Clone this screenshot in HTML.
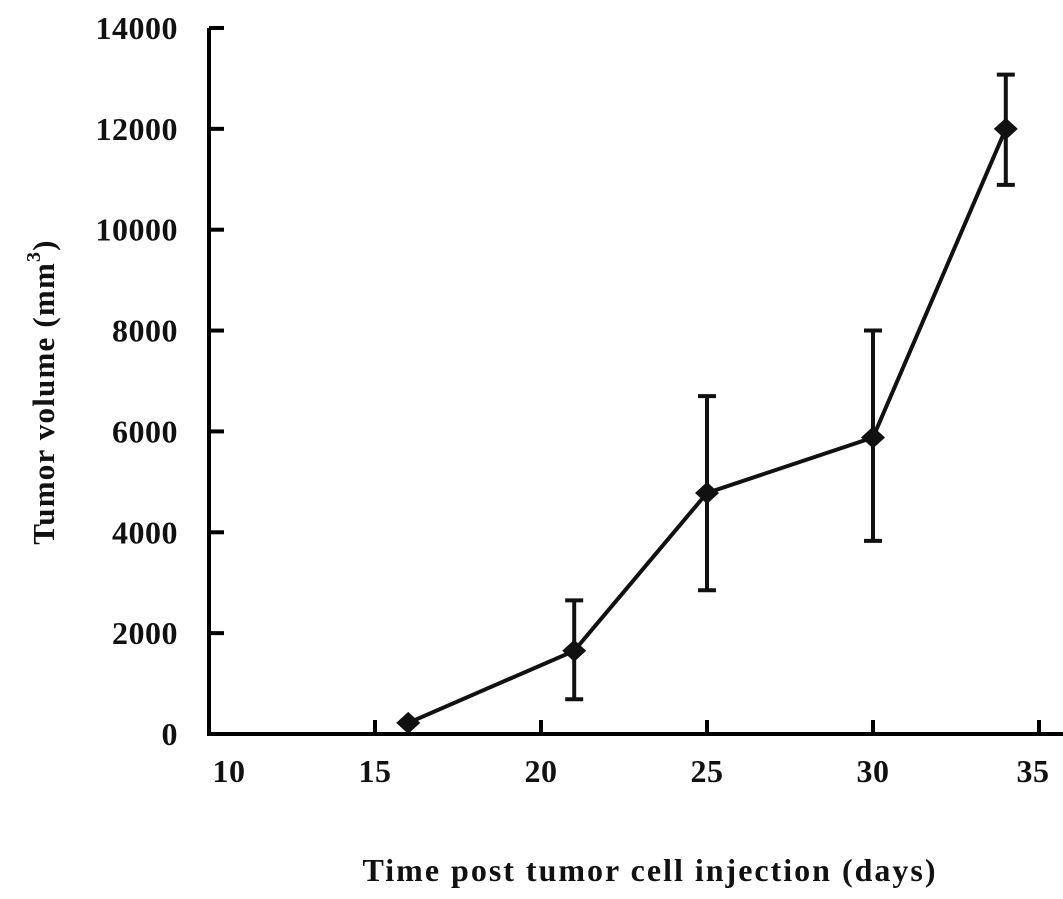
<!DOCTYPE html>
<html><head><meta charset="utf-8"><style>
body{margin:0;background:#fff;}
svg text{font-family:"Liberation Serif",serif;font-weight:bold;fill:#111;}
</style></head><body>
<svg id="chart" width="1063" height="894" viewBox="0 0 1063 894" xmlns="http://www.w3.org/2000/svg">
<g id="axes"></g>
<g id="series"></g>
<text x="650" y="893" text-anchor="middle" font-size="32" letter-spacing="2" dy="-12">Time post tumor cell injection (days)</text>
<text transform="translate(54,392) rotate(-90)" text-anchor="middle" font-size="31" letter-spacing="1.2">Tumor volume (mm<tspan font-size="20" dy="-14">3</tspan><tspan dy="14">)</tspan></text>
</svg>
<script>
const days = [16, 21, 25, 30, 34];
const volumes = [220, 1650, 4780, 5880, 12000];
const errLow = [220, 690, 2850, 3830, 10890];
const errHigh = [220, 2650, 6700, 8000, 13075];
const xTicks = [10, 15, 20, 25, 30, 35];
const yTicks = [0, 2000, 4000, 6000, 8000, 10000, 12000, 14000];

const NS = "http://www.w3.org/2000/svg";
const X0 = 209, Y0 = 734;
function xs(d){ return X0 + (d - 10) * 33.2; }
function ys(v){ return Y0 - v * 0.05043; }
function mk(tag, attrs, parent){
  const e = document.createElementNS(NS, tag);
  for (const k in attrs) e.setAttribute(k, attrs[k]);
  parent.appendChild(e); return e;
}
const ax = document.getElementById('axes');
const se = document.getElementById('series');
const yl = mk('line', {x1:X0, y1:ys(14000), x2:X0, y2:Y0, stroke:'#000', 'stroke-width':4}, ax);


const xl = mk('line', {x1:X0-2, y1:Y0, x2:1063, y2:Y0, stroke:'#000', 'stroke-width':4}, ax);


yTicks.forEach(v => {
  const t = mk('line', {x1:X0, y1:ys(v), x2:X0+15, y2:ys(v), stroke:'#000', 'stroke-width':4}, ax);
  
  
  const l = mk('text', {x:178, y:ys(v)+11, 'text-anchor':'end', 'font-size':32, 'letter-spacing':0.5}, ax);
  
  
  l.textContent = v;
});
xTicks.forEach(d => {
  if (d > 10) {
    const t = mk('line', {x1:xs(d), y1:Y0, x2:xs(d), y2:Y0-14, stroke:'#000', 'stroke-width':4}, ax);
    
    
  }
  const l = mk('text', {x:xs(d)+(d===10?20:(d===35?-6:0)), y:782, 'text-anchor':'middle', 'font-size':32, 'letter-spacing':0.5}, ax);
  
  
  l.textContent = d;
});
const pts = days.map((d,i) => xs(d)+','+ys(volumes[i])).join(' ');
const pl = mk('polyline', {points:pts, fill:'none', stroke:'#111', 'stroke-width':4}, se);


days.forEach((d,i) => {
  const x = xs(d);
  if (errHigh[i] > errLow[i]) {
    const g = mk('path', {d:`M${x},${ys(errLow[i])}V${ys(errHigh[i])}M${x-9},${ys(errLow[i])}H${x+9}M${x-9},${ys(errHigh[i])}H${x+9}`, stroke:'#111', 'stroke-width':4, fill:'none'}, se);
    
    
  }
  const y = ys(volumes[i]);
  const m = mk('polygon', {points:`${x-12},${y} ${x},${y-11} ${x+12},${y} ${x},${y+11}`, fill:'#111'}, se);
  
  
});
</script>
</body></html>
